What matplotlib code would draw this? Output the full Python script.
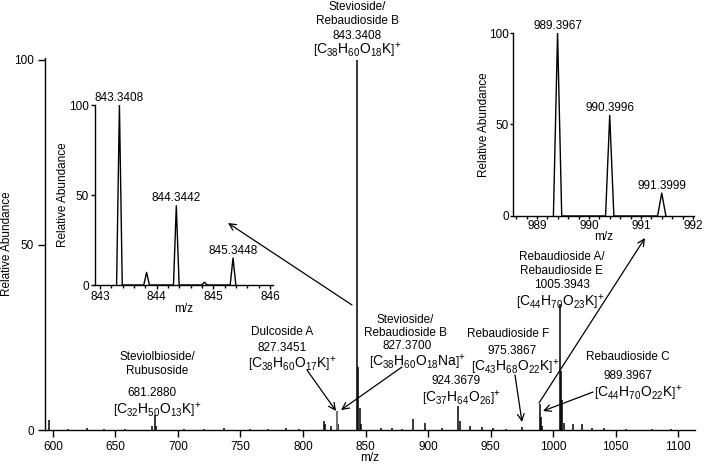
import matplotlib
matplotlib.use("Agg")
import matplotlib.pyplot as plt
import numpy as np

plt.rcParams['font.family'] = ['Liberation Sans', 'DejaVu Sans']
plt.rcParams['mathtext.fontset'] = 'custom'
plt.rcParams['mathtext.rm'] = 'Liberation Sans'
plt.rcParams['mathtext.it'] = 'Liberation Sans:italic'
plt.rcParams['font.size'] = 8.5

# 主谱图 (m/z, 相对丰度)
main_mz = [596.8, 612, 627, 641, 658, 679.5, 681.29, 682.3, 705, 721, 737, 758, 772,
           786, 797, 816.5, 817.6, 822.0, 827.35, 828.35, 843.34, 844.34, 845.34,
           846.3, 862, 871, 879, 887.8, 897.6, 911, 924.37, 925.37, 933.6, 943,
           952, 962, 975.39, 989.40, 990.40, 991.40, 1005.39, 1006.39, 1007.39,
           1008.4, 1016, 1023.2, 1031, 1041, 1058, 1079, 1094]
main_int = [2.7, 0.4, 0.5, 0.4, 0.3, 1.0, 4.0, 1.2, 0.4, 0.3, 0.5, 0.4, 0.3,
            0.5, 0.4, 2.5, 1.5, 1.0, 5.0, 1.5, 100, 17, 6,
            1.5, 0.5, 0.6, 0.4, 3.0, 2.0, 0.5, 6.5, 2.5, 1.0, 0.8,
            0.5, 0.4, 0.8, 7.0, 3.5, 1.0, 34, 16, 8,
            2.0, 1.5, 1.5, 0.6, 0.5, 0.4, 0.3, 0.4]

# 插图1: 843 同位素峰
ins1_mz = [843.3408, 843.82, 844.3442, 844.84, 845.3448]
ins1_int = [100, 7, 44, 1.5, 15]
ins1_labels = ['843.3408', '', '844.3442', '', '845.3448']

# 插图2: 989 同位素峰
ins2_mz = [989.3967, 990.3996, 991.3999]
ins2_int = [100, 55, 12.5]
ins2_labels = ['989.3967', '990.3996', '991.3999']

W, H = 706, 465
fig = plt.figure(figsize=(W / 100, H / 100), dpi=100)


def box(l, t, r, b):
    return [l / W, (H - b) / H, (r - l) / W, (b - t) / H]


def peaks(ax, mz, inten, hw):
    xs, ys = [], []
    for m, h in zip(mz, inten):
        xs += [m - hw, m, m + hw]
        ys += [0, h, 0]
    ax.plot(xs, ys, color='black', lw=1.0)


def style(ax):
    for s in ['top', 'right']:
        ax.spines[s].set_visible(False)
    ax.spines['left'].set_linewidth(1.0)
    ax.spines['bottom'].set_linewidth(1.0)


# 主轴
ax = fig.add_axes(box(45, 58, 695, 430))
ax.vlines(main_mz, 0, main_int, color='black', lw=1.1)
ax.vlines([827.35], 0, [5.0], color='#777777', lw=1.3)
ax.set_xlim(593.6, 1113.6)
ax.set_ylim(0, 100.5)
ax.set_xticks([600, 650, 700, 750, 800, 850, 900, 950, 1000, 1050, 1100])
ax.set_yticks([0, 50, 100])
ax.tick_params(direction='out', length=5, width=1, pad=3)
ax.set_xlabel('m/z', labelpad=-1)
ax.set_ylabel('Relative Abundance', labelpad=1)
style(ax)

# 插图1
a1 = fig.add_axes(box(95, 105, 273, 285))
peaks(a1, ins1_mz, ins1_int, 0.05)
a1.set_xlim(842.91, 846.05)
a1.set_ylim(0, 100)
a1.set_xticks([843, 844, 845, 846])
a1.set_xticks(np.arange(843, 846.01, 0.2), minor=True)
a1.set_yticks([0, 50, 100])
a1.tick_params(direction='out', length=3, width=1, pad=1.5)
a1.tick_params(which='minor', direction='out', length=2, width=1)
a1.set_xlabel('m/z', labelpad=0)
a1.set_ylabel('Relative Abundance', labelpad=0)
style(a1)
a1.patch.set_alpha(0)

# 插图2
a2 = fig.add_axes(box(513, 33, 694, 216))
peaks(a2, ins2_mz, ins2_int, 0.08)
a2.set_xlim(988.54, 992.02)
a2.set_ylim(0, 100)
a2.set_xticks([989, 990, 991, 992])
a2.set_xticks(np.arange(988.6, 992.01, 0.2), minor=True)
a2.set_yticks([0, 50, 100])
a2.tick_params(direction='out', length=2, width=1, pad=1)
a2.tick_params(which='minor', direction='out', length=2, width=1)
a2.set_xlabel('m/z', labelpad=-1)
a2.set_ylabel('Relative Abundance', labelpad=-1)
style(a2)
a2.patch.set_alpha(0)

for m, h, t in zip(ins1_mz, ins1_int, ins1_labels):
    if t:
        a1.annotate(t, xy=(m, h), xytext=(0, 1), textcoords='offset points',
                    ha='center', va='bottom')
for m, h, t in zip(ins2_mz, ins2_int, ins2_labels):
    a2.annotate(t, xy=(m, h), xytext=(0, 1), textcoords='offset points',
                ha='center', va='bottom')


def formula(c, h, o, ion):
    return (r'$\left[\mathrm{C}_{%s}\mathrm{H}_{%s}\mathrm{O}_{%s}%s\right]^{+}$'
            % (c, h, o, ion))


def label(x, y, s, size=None):
    fig.text(x / W, 1 - y / H, s, ha='center', va='center', fontsize=size)


FS = 10

# 注释文字
label(357, 7, 'Stevioside/')
label(357, 21, 'Rebaudioside B')
label(357, 36, '843.3408')
label(357, 50, formula('38', '60', '18', r'\mathrm{K}'), FS)

label(282, 332, 'Dulcoside A')
label(282, 348, '827.3451')
label(292, 364, formula('38', '60', '17', r'\mathrm{K}'), FS)

label(157, 357, 'Steviolbioside/')
label(157, 371, 'Rubusoside')
label(152, 393, '681.2880')
label(157, 410, formula('32', '50', '13', r'\mathrm{K}'), FS)

label(405, 320, 'Stevioside/')
label(405, 333, 'Rebaudioside B')
label(407, 346, '827.3700')
label(417, 362, formula('38', '60', '18', r'\mathrm{Na}'), FS)

label(508, 334, 'Rebaudioside F')
label(512, 351, '975.3867')
label(515, 367, formula('43', '68', '22', r'\mathrm{K}'), FS)

label(456, 381, '924.3679')
label(462, 398, r'$\left[\mathrm{C}_{37}\mathrm{H}_{64}\mathrm{O}_{26}\right]^{+}$', FS)

label(562, 257, 'Rebaudioside A/')
label(562, 271, 'Rebaudioside E')
label(562, 285, '1005.3943')
label(560, 302, formula('44', '70', '23', r'\mathrm{K}'), FS)

label(628, 357, 'Rebaudioside C')
label(628, 376, '989.3967')
label(638, 393, formula('44', '70', '22', r'\mathrm{K}'), FS)

# 箭头
arrows = [((352, 305), (228, 223)),
          ((539, 403), (645, 238)),
          ((307, 370), (336, 411)),
          ((402, 367), (341, 410)),
          ((515, 375), (522, 422)),
          ((593, 392), (543, 411))]
for (x0, y0), (x1, y1) in arrows:
    ax.annotate('', xy=(x1, H - y1), xycoords='figure pixels',
                xytext=(x0, H - y0), textcoords='figure pixels',
                arrowprops=dict(arrowstyle='->', lw=0.9, color='black',
                                shrinkA=0, shrinkB=0, mutation_scale=12))

fig.savefig('out.png', dpi=100)
